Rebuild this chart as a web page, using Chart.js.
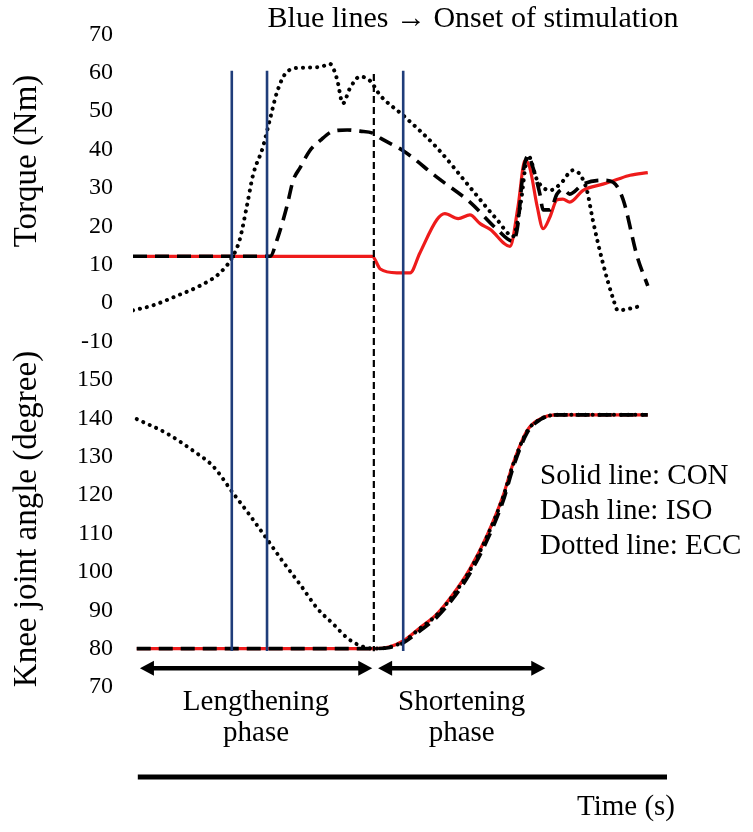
<!DOCTYPE html>
<html><head><meta charset="utf-8">
<script src="https://cdn.jsdelivr.net/npm/chart.js@4/dist/chart.umd.min.js"></script>
<style>html,body{margin:0;padding:0;background:#fff}canvas{display:block}</style>
</head><body>
<canvas id="c" width="753" height="832"></canvas>
<script>
const FONT = '"Liberation Serif", "Times New Roman", serif';

// Tick labels
const torqueTicks = [-10, 0, 10, 20, 30, 40, 50, 60, 70];
const angleTicks = [70, 80, 90, 100, 110, 120, 130, 140, 150];

// Torque (Nm) — time in arbitrary units (0..100)
const conTorqueT = [2.6, 44.8, 46.3, 49.4, 51.9, 53.7, 56.9, 58.4, 60.9, 63.1, 65.0, 66.9, 70.6, 72.1, 73.4, 74.3, 75.7, 76.8, 78.1, 79.4, 80.5, 81.8, 84.3, 88.0, 90.6, 93.1, 96.4];
const conTorqueV = [12.2, 12.2, 8.9, 7.9, 7.9, 13.0, 21.7, 23.3, 22.0, 23.0, 20.7, 19.2, 14.8, 25.1, 37.1, 35.3, 25.1, 19.4, 22.5, 26.9, 27.1, 26.3, 29.4, 31.0, 32.2, 33.3, 34.0];

const isoTorqueT = [0, 25.7, 27.0, 28.8, 30.0, 31.3, 33.1, 35.0, 37.5, 40.1, 42.5, 44.9, 46.3, 50.6, 56.9, 63.1, 68.2, 71.2, 72.1, 73.0, 74.0, 74.9, 76.2, 76.8, 78.1, 79.4, 80.5, 81.8, 84.3, 88.0, 89.9, 91.8, 94.4, 96.4];
const isoTorqueV = [12.2, 12.2, 16.6, 25.1, 32.0, 35.3, 39.7, 42.3, 44.8, 45.1, 44.8, 44.3, 43.0, 39.7, 32.8, 26.3, 19.2, 16.1, 20.7, 33.5, 38.4, 35.3, 28.4, 24.3, 24.3, 28.4, 29.7, 28.4, 31.0, 32.0, 31.5, 26.9, 12.2, 4.5];

const eccTorqueT = [0, 3.7, 8.2, 12.5, 16.3, 18.7, 20.0, 21.3, 22.5, 24.3, 25.7, 27.0, 28.8, 31.3, 35.0, 36.9, 38.2, 39.3, 40.6, 42.5, 44.4, 46.3, 50.6, 56.9, 63.1, 68.2, 71.2, 72.5, 74.0, 75.7, 78.1, 80.0, 82.4, 83.7, 85.0, 86.1, 88.0, 89.9, 90.8, 93.1, 95.5];
const eccTorqueV = [-1.9, -0.6, 1.9, 4.5, 7.9, 12.2, 16.6, 25.1, 33.5, 40.5, 48.2, 55.1, 60.2, 61.3, 61.5, 62.3, 58.4, 52.0, 55.9, 59.0, 57.9, 54.1, 48.9, 40.5, 30.2, 21.7, 17.4, 25.1, 38.4, 32.0, 29.4, 31.0, 34.6, 33.5, 29.4, 21.7, 10.4, 1.2, -1.9, -1.4, -0.6];

// Knee joint angle (degree)
const conAngleT = [0.7, 45.1, 48.1, 50.6, 53.7, 56.9, 59.9, 63.1, 66.3, 69.3, 71.2, 73.8, 76.2, 79.4, 96.4];
const conAngleV = [80, 80, 80.5, 82.0, 85.4, 89.0, 94.1, 100.8, 109.5, 119.8, 128.3, 136.8, 139.8, 140.9, 140.9];

const isoAngleT = [0.7, 45.1, 48.1, 50.6, 53.7, 56.9, 59.9, 63.1, 66.3, 69.3, 71.2, 73.8, 76.2, 79.4, 96.4];
const isoAngleV = [80, 80, 80.3, 81.5, 84.6, 88.2, 93.0, 99.6, 108.2, 118.4, 127.2, 136.2, 139.6, 140.9, 140.9];

const eccAngleT = [0.7, 6.4, 11.2, 15.0, 18.7, 21.9, 25.1, 28.1, 31.3, 34.5, 37.5, 40.1, 42.5, 45.1, 48.1, 50.6, 53.7, 56.9, 59.9, 63.1, 66.3, 69.3, 71.2, 73.8, 76.2, 79.4, 96.4];
const eccAngleV = [139.8, 136.0, 131.6, 127.5, 120.6, 114.7, 108.5, 102.6, 96.7, 90.5, 86.4, 82.8, 80.8, 80.0, 80.4, 81.8, 85.2, 88.8, 93.8, 100.4, 109.2, 119.4, 128.0, 136.6, 139.7, 140.9, 140.9];

// Events (time units)
const stimulationTimes = [18.5, 25.1, 50.6];
const phaseBoundaryTime = 45.1;
const phaseNames = [['Lengthening', 'phase'], ['Shortening', 'phase']];
const phaseStart = [1.3, 45.9];
const phaseEnd = [44.8, 77.2];
const legendLines = ['Solid line: CON', 'Dash line: ISO', 'Dotted line: ECC'];

const pts = (t, v) => t.map((x, i) => ({x, y: v[i]}));
const RED = '#ee1b1b';
const BLUE = '#1f3d7a';

const common = {pointRadius: 0, fill: false, cubicInterpolationMode: 'monotone'};
const eccStyle = {borderColor: '#000', borderWidth: 4, borderDash: [0.1, 7], borderCapStyle: 'round'};
const isoStyle = {borderColor: '#000', borderWidth: 3.6, borderDash: [14, 8]};
const conStyle = {borderColor: RED, borderWidth: 3.2};

const overlay = {
  id: 'overlay',
  afterDatasetsDraw(chart) {
    const {ctx} = chart;
    const x = chart.scales.x, yT = chart.scales.yT, yA = chart.scales.yA;
    ctx.save();
    ctx.strokeStyle = '#000'; ctx.lineWidth = 2.2; ctx.setLineDash([7, 4]);
    const pb = x.getPixelForValue(phaseBoundaryTime);
    ctx.beginPath(); ctx.moveTo(pb, yT.getPixelForValue(59.7)); ctx.lineTo(pb, yA.getPixelForValue(79.3)); ctx.stroke();
    ctx.setLineDash([]);
    ctx.strokeStyle = BLUE; ctx.lineWidth = 2.6;
    stimulationTimes.forEach(t => {
      const p = x.getPixelForValue(t);
      ctx.beginPath(); ctx.moveTo(p, yT.getPixelForValue(60.5)); ctx.lineTo(p, yA.getPixelForValue(79.4)); ctx.stroke();
    });
    ctx.restore();
  },
  afterDraw(chart) {
    const {ctx, chartArea} = chart;
    const x = chart.scales.x, yA = chart.scales.yA;
    ctx.save();
    ctx.fillStyle = '#000'; ctx.strokeStyle = '#000';
    // title
    ctx.font = '30px ' + FONT; ctx.textAlign = 'center'; ctx.textBaseline = 'middle';
    ctx.fillText('Blue lines \u2192 Onset of stimulation', 473, 19);
    // y titles
    ctx.font = '33px ' + FONT;
    [['Torque (Nm)', 161], ['Knee joint angle (degree)', 519]].forEach(([t, cy]) => {
      ctx.save(); ctx.translate(27, cy); ctx.rotate(-Math.PI / 2); ctx.fillText(t, 0, 0); ctx.restore();
    });
    // legend text
    ctx.font = '29px ' + FONT; ctx.textAlign = 'left';
    legendLines.forEach((t, i) => ctx.fillText(t, 540, 476 + i * 35));
    // phase arrows
    const ay = yA.getPixelForValue(74.9);
    phaseNames.forEach((names, i) => {
      const x1 = x.getPixelForValue(phaseStart[i]), x2 = x.getPixelForValue(phaseEnd[i]);
      ctx.lineWidth = 4.5;
      ctx.beginPath(); ctx.moveTo(x1 + 8, ay); ctx.lineTo(x2 - 8, ay); ctx.stroke();
      ctx.beginPath(); ctx.moveTo(x1, ay); ctx.lineTo(x1 + 14, ay - 7.5); ctx.lineTo(x1 + 14, ay + 7.5); ctx.closePath(); ctx.fill();
      ctx.beginPath(); ctx.moveTo(x2, ay); ctx.lineTo(x2 - 14, ay - 7.5); ctx.lineTo(x2 - 14, ay + 7.5); ctx.closePath(); ctx.fill();
      const cx = (x1 + x2) / 2;
      ctx.font = '29px ' + FONT; ctx.textAlign = 'center';
      ctx.fillText(names[0], cx, chartArea.bottom + 15);
      ctx.fillText(names[1], cx, chartArea.bottom + 46);
    });
    // time axis
    ctx.lineWidth = 5;
    const ly = chartArea.bottom + 90;
    ctx.beginPath(); ctx.moveTo(x.getPixelForValue(0.9), ly); ctx.lineTo(x.getPixelForValue(100), ly); ctx.stroke();
    ctx.font = '29px ' + FONT; ctx.textAlign = 'right';
    ctx.fillText('Time (s)', chartArea.right + 8, chartArea.bottom + 120);
    ctx.restore();
  }
};

const yCommon = {
  type: 'linear', position: 'left', stack: 'panels', stackWeight: 1,
  grid: {display: false, drawTicks: false}, border: {display: false},
  ticks: {color: '#000', font: {family: FONT, size: 24}, padding: 20, autoSkip: false},
  afterFit(s) { s.width = 133; }
};

new Chart(document.getElementById('c'), {
  type: 'line',
  data: {
    datasets: [
      {label: 'ECC torque', data: pts(eccTorqueT, eccTorqueV), yAxisID: 'yT', ...common, ...eccStyle},
      {label: 'ECC angle', data: pts(eccAngleT, eccAngleV), yAxisID: 'yA', ...common, ...eccStyle},
      {label: 'ISO torque', data: pts(isoTorqueT, isoTorqueV), yAxisID: 'yT', ...common, ...isoStyle},
      {label: 'ISO angle', data: pts(isoAngleT, isoAngleV), yAxisID: 'yA', ...common, ...isoStyle},
      {label: 'CON torque', data: pts(conTorqueT, conTorqueV), yAxisID: 'yT', ...common, ...conStyle},
      {label: 'CON angle', data: pts(conAngleT, conAngleV), yAxisID: 'yA', ...common, ...conStyle}
    ]
  },
  options: {
    responsive: false, animation: false,
    layout: {padding: {top: 25, bottom: 145, right: 86, left: 0}},
    plugins: {legend: {display: false}, tooltip: {enabled: false}, title: {display: false}},
    scales: {
      x: {type: 'linear', min: 0, max: 100, display: false},
      yT: {...yCommon, weight: 1, min: -15, max: 70,
        afterBuildTicks(s) { s.ticks = torqueTicks.map(v => ({value: v})); }},
      yA: {...yCommon, weight: 0, min: 70, max: 155,
        afterBuildTicks(s) { s.ticks = angleTicks.map(v => ({value: v})); }}
    }
  },
  plugins: [overlay]
});
</script>
</body></html>
